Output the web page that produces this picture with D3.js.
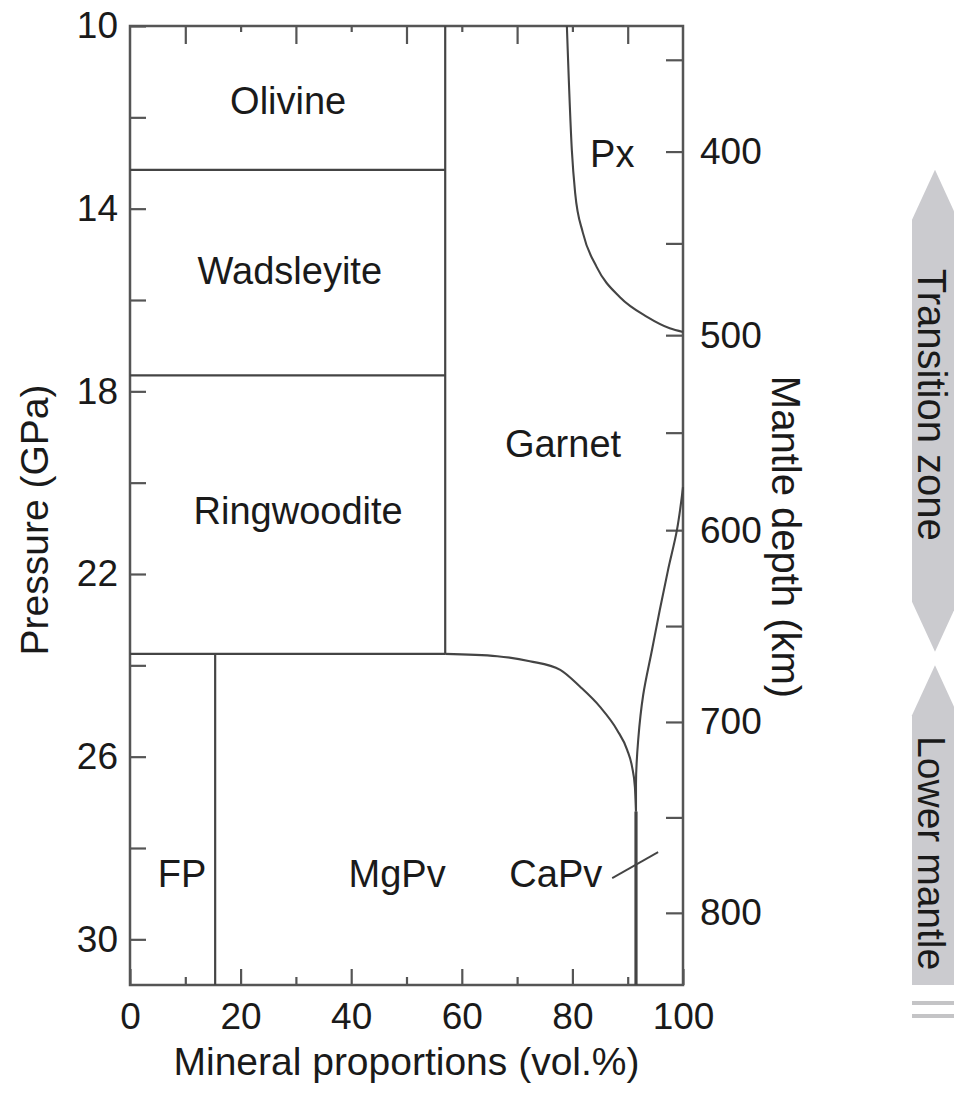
<!DOCTYPE html>
<html>
<head>
<meta charset="utf-8">
<script src="https://cdn.jsdelivr.net/npm/d3@7"></script>
<style>
body { margin: 0; background: #fff; }
svg { display: block; font-family: "Liberation Sans", Arial, Helvetica, sans-serif; }
.axis path { display: none; }
.axis line { stroke: #555; stroke-width: 2.2; }
.axis text { font-size: 37px; fill: #1a1a1a; font-family: "Liberation Sans", Arial, Helvetica, sans-serif; }
</style>
</head>
<body>
<div id="chart"></div>
<script>
//----------------------------DATA-------------------------------//
// pressure ticks (GPa) and which of them carry a label
const pressureTicks = [10, 12, 14, 16, 18, 20, 22, 24, 26, 28, 30];
const pressureLabels = [10, 14, 18, 22, 26, 30];
// mineral proportion ticks (vol.%)
const volMajor = [0, 20, 40, 60, 80, 100];
const volMinor = [10, 30, 50, 70, 90];
// depth axis: km -> GPa
const depthKm = [400, 500, 600, 700, 800];
const depthGPa = [12.75, 16.77, 21.04, 25.24, 29.42];
const depthTicks = [350, 400, 450, 500, 550, 600, 650, 700, 750, 800];
const depthLabels = [400, 500, 600, 700, 800];

// straight phase boundaries
const vLines = [[57, 10, 23.75], [15.4, 23.75, 31]];          // [vol%, from GPa, to GPa]
const hLines = [[13.15, 0, 57], [17.65, 0, 57], [23.75, 0, 57]]; // [GPa, from vol%, to vol%]
const capvLine = [91.5, 27.2, 31];

// curved boundaries [vol%, GPa]
const pxCurve = [[79.0, 10.0], [79.9, 12.72], [80.5, 13.66], [81.9, 14.53], [84.4, 15.28],
                 [88.6, 15.94], [93.5, 16.37], [97.6, 16.62], [100, 16.70]];
const garnetOut = [[57, 23.75], [66.4, 23.80], [72.3, 23.91], [77.8, 24.10], [81.4, 24.47],
                   [85.0, 24.91], [88.1, 25.42], [89.9, 25.85], [90.8, 26.23], [91.3, 26.66], [91.5, 27.2]];
const capvIn = [[100, 20.1], [98.9, 21.04], [97.3, 21.91], [95.8, 22.79], [94.4, 23.66],
                [92.8, 24.65], [91.9, 25.63], [91.5, 26.6], [91.5, 27.2]];
const capvLeader = [[87.2, 28.66], [95.5, 28.09]];

// phase names and where they sit
const phaseNames = ["Olivine", "Px", "Wadsleyite", "Garnet", "Ringwoodite", "FP", "MgPv", "CaPv"];
const phaseVol = [28.6, 87.2, 28.9, 78.3, 30.4, 9.4, 48.3, 77.0];
const phaseGPa = [11.62, 12.78, 15.34, 19.13, 20.6, 28.55, 28.55, 28.55];

// mantle regions (GPa)
const zoneNames = ["Transition zone", "Lower mantle"];
const zoneTop = [13.15, 24.0];
const zoneBottom = [23.7, 31];

//----------------------------SVG--------------------------------//
const W = 954, H = 1095;
const svg = d3.select("#chart").append("svg")
    .attr("width", W)
    .attr("height", H);

const x = d3.scaleLinear().domain([0, 100]).range([130, 683]);
const y = d3.scaleLinear().domain([10, 31]).range([26, 985]);
const depthY = d3.scaleLinear().domain(depthKm).range(depthGPa.map(y));

const ink = "#1a1a1a";
const lineCol = "#444";

//----------------------------AXES-------------------------------//
svg.append("g").attr("class", "axis")
    .attr("transform", "translate(" + x(0) + ",0)")
    .call(d3.axisLeft(y).tickValues(pressureTicks).tickSize(-16).tickPadding(12)
        .tickFormat(d => pressureLabels.includes(d) ? d : ""));

svg.append("g").attr("class", "axis")
    .attr("transform", "translate(0," + y(31) + ")")
    .call(d3.axisBottom(x).tickValues(volMajor).tickSize(-16).tickPadding(18));
svg.append("g").attr("class", "axis")
    .attr("transform", "translate(0," + y(31) + ")")
    .call(d3.axisBottom(x).tickValues(volMinor).tickSize(-8).tickFormat(""));

svg.append("g").attr("class", "axis")
    .attr("transform", "translate(0," + y(10) + ")")
    .call(d3.axisTop(x).tickValues(volMinor).tickSize(-18).tickFormat(""));
svg.append("g").attr("class", "axis")
    .attr("transform", "translate(0," + y(10) + ")")
    .call(d3.axisTop(x).tickValues(volMajor.slice(1, -1)).tickSize(-6).tickFormat(""));

svg.append("g").attr("class", "axis")
    .attr("transform", "translate(" + x(100) + ",0)")
    .call(d3.axisRight(depthY).tickValues(depthTicks).tickSize(-17).tickPadding(17)
        .tickFormat(d => depthLabels.includes(d) ? d : ""));

// frame
svg.append("rect")
    .attr("x", x(0)).attr("y", y(10))
    .attr("width", x(100) - x(0)).attr("height", y(31) - y(10))
    .attr("fill", "none").attr("stroke", "#555").attr("stroke-width", 2.5);

// titles
svg.append("text")
    .attr("x", (x(0) + x(100)) / 2).attr("y", 1075)
    .attr("text-anchor", "middle").attr("font-size", 39).attr("fill", ink)
    .text("Mineral proportions (vol.%)");
svg.append("text")
    .attr("transform", "translate(48,520) rotate(-90)")
    .attr("text-anchor", "middle").attr("font-size", 39).attr("fill", ink)
    .text("Pressure (GPa)");
svg.append("text")
    .attr("transform", "translate(772,537) rotate(90)")
    .attr("text-anchor", "middle").attr("font-size", 40).attr("fill", ink)
    .text("Mantle depth (km)");

//----------------------------LINES------------------------------//
svg.selectAll(".vline").data(vLines).enter().append("line")
    .attr("x1", d => x(d[0])).attr("x2", d => x(d[0]))
    .attr("y1", d => y(d[1])).attr("y2", d => y(d[2]))
    .attr("stroke", lineCol).attr("stroke-width", 2.2);

svg.selectAll(".hline").data(hLines).enter().append("line")
    .attr("x1", d => x(d[1])).attr("x2", d => x(d[2]))
    .attr("y1", d => y(d[0])).attr("y2", d => y(d[0]))
    .attr("stroke", lineCol).attr("stroke-width", 2.2);

svg.append("line")
    .attr("x1", x(capvLine[0])).attr("x2", x(capvLine[0]))
    .attr("y1", y(capvLine[1])).attr("y2", y(capvLine[2]))
    .attr("stroke", lineCol).attr("stroke-width", 3.2);

const curveX = d3.line()
    .x(d => x(d[0]))
    .y(d => y(d[1]))
    .curve(d3.curveMonotoneX);
const curveY = d3.line()
    .x(d => x(d[0]))
    .y(d => y(d[1]))
    .curve(d3.curveMonotoneY);

[[pxCurve, curveX], [garnetOut, curveX], [capvIn, curveY]].forEach(c => {
    svg.append("path")
        .datum(c[0])
        .attr("fill", "none")
        .attr("stroke", lineCol)
        .attr("stroke-width", 2.1)
        .attr("d", c[1]);
});

svg.append("path")
    .datum(capvLeader)
    .attr("fill", "none").attr("stroke", lineCol).attr("stroke-width", 1.8)
    .attr("d", d3.line().x(d => x(d[0])).y(d => y(d[1])));

//----------------------------LABELS-----------------------------//
svg.selectAll(".phase").data(phaseNames).enter().append("text")
    .attr("x", (d, i) => x(phaseVol[i]))
    .attr("y", (d, i) => y(phaseGPa[i]))
    .attr("dy", "0.36em")
    .attr("text-anchor", "middle")
    .attr("font-size", 38)
    .attr("fill", ink)
    .text(d => d);

//----------------------------ZONES------------------------------//
const zx = 935, zhw = 23, zhead = 50;
zoneNames.forEach((name, i) => {
    const yt = y(zoneTop[i]), yb = y(zoneBottom[i]);
    const tipBottom = i === 0;
    const p = d3.path();
    p.moveTo(zx, yt);
    p.lineTo(zx + zhw, yt + zhead);
    if (tipBottom) {
        p.lineTo(zx + zhw, yb - zhead);
        p.lineTo(zx, yb);
        p.lineTo(zx - zhw, yb - zhead);
    } else {
        p.lineTo(zx + zhw, yb);
        p.lineTo(zx - zhw, yb);
    }
    p.lineTo(zx - zhw, yt + zhead);
    p.closePath();
    svg.append("path").attr("d", p.toString()).attr("fill", "#cbcbcf");

    const mid = (yt + yb) / 2 + (i === 0 ? -6 : 28);
    svg.append("text")
        .attr("transform", "translate(" + (zx - 17) + "," + mid + ") rotate(90)")
        .attr("text-anchor", "middle").attr("font-size", i === 0 ? 40 : 39).attr("fill", ink)
        .text(name);

    if (!tipBottom) {
        [18, 31].forEach(off => {
            svg.append("line")
                .attr("x1", zx - zhw).attr("x2", zx + zhw)
                .attr("y1", yb + off).attr("y2", yb + off)
                .attr("stroke", "#c4c4c6").attr("stroke-width", 4);
        });
    }
});
</script>
</body>
</html>
